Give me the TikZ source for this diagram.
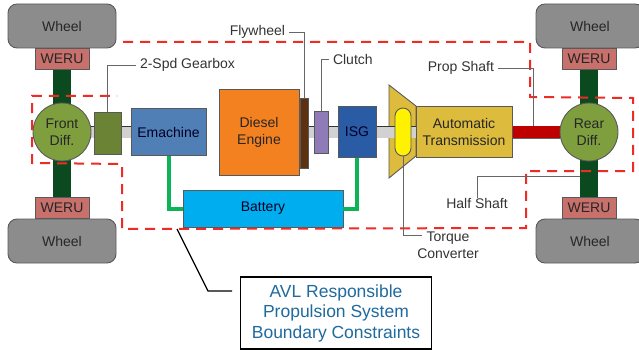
\documentclass[tikz,border=0pt]{standalone}
\usepackage{fontspec}
\setmainfont{Liberation Sans}
\usetikzlibrary{backgrounds}
\definecolor{wheelgrey}{HTML}{8C8C8C}
\definecolor{werured}{HTML}{C8706B}
\definecolor{axlegreen}{HTML}{0B4A1E}
\definecolor{diffgreen}{HTML}{7F9F3F}
\definecolor{gearboxgreen}{HTML}{6B8335}
\definecolor{emachineblue}{HTML}{4F7FB5}
\definecolor{isgblue}{HTML}{2A5BA5}
\definecolor{batteryblue}{HTML}{00AEEF}
\definecolor{engineorange}{HTML}{F48120}
\definecolor{flywheelbrown}{HTML}{5E3110}
\definecolor{clutchpurple}{HTML}{8F7BB8}
\definecolor{transgold}{HTML}{DDBB3C}
\definecolor{wiregreen}{HTML}{0DB457}
\definecolor{boundaryred}{HTML}{EE2B24}
\definecolor{avlblue}{HTML}{1F6A9F}
\begin{document}
\begin{tikzpicture}[x=1pt,y=-1pt,inner sep=0pt,
	part/.style={draw=black!65,line width=0.9pt,font=\fontsize{14}{17}\selectfont,align=center,text=black!85},
	wheel/.style={part,fill=wheelgrey,rounded corners=9pt,minimum width=108pt,minimum height=44pt},
	weru/.style={part,fill=werured,minimum width=54pt,minimum height=21pt},
	diff/.style={part,fill=diffgreen,circle,minimum size=58pt},
	label/.style={font=\fontsize{14}{17}\selectfont,align=center,text=black!80,outer xsep=4pt},
	leader/.style={draw=black!60,line width=0.9pt},
	wire/.style={draw=wiregreen,line width=4pt},
	mainshaft/.style={draw=black!80,line width=0.8pt,double=black!18,double distance=11pt}]
	\useasboundingbox (0,0) rectangle (639,350);

	\foreach [count=\n] \x/\y in {62/26,62/241,590/26,590/241}
		\node [wheel] (wheel \n) at (\x,\y) {Wheel};
	\foreach [count=\n] \x/\y in {62/58.5,62/207.5,589/58.5,589/207.5}
		\node [weru] (weru \n) at (\x,\y) {WERU};

	\node [diff] (front diff) at (62,132) {Front\\Diff.};
	\node [diff] (rear diff) at (589,132) {Rear\\Diff.};

	\node [part,fill=gearboxgreen,minimum width=27pt,minimum height=42pt] (gearbox) at (107.5,133) {};
	\node [part,fill=emachineblue,minimum width=75pt,minimum height=47pt,text=black!85!blue] (emachine) at (168.5,132) {Emachine};
	\node [part,fill=engineorange,minimum width=80pt,minimum height=86pt] (engine) at (259,132) {Diesel\\Engine};
	\node [part,fill=flywheelbrown,minimum width=8pt,minimum height=70pt] (flywheel) at (304,133) {};
	\node [part,fill=clutchpurple,minimum width=14pt,minimum height=42pt] (clutch) at (321,132) {};
	\node [part,fill=isgblue,minimum width=38pt,minimum height=51pt,text=black!85!blue] (isg) at (357,132) {ISG};
	\node [part,fill=transgold,minimum width=96pt,minimum height=51pt] (transmission) at (464,132) {Automatic\\Transmission};
	\node [part,fill=yellow,minimum width=16pt,minimum height=48pt,rounded corners=8pt] (converter) at (403,132) {};
	\node [part,fill=batteryblue,minimum width=160pt,minimum height=37pt,text=black!85!blue] (battery) at (263,208.5) {Battery};

	\begin{scope}[on background layer]
		\draw [part,fill=transgold] (389,85) -- (416,106) -- (416,156) -- (389,178) -- cycle;
		\draw [draw=axlegreen,line width=18pt] (weru 1) -- (weru 2);
		\draw [draw=axlegreen,line width=18pt] (weru 3) -- (weru 4);
		\draw [mainshaft] (front diff) -- (emachine);
		\draw [mainshaft] (engine) -- (transmission);
		\draw [draw=black!60,line width=13pt] (transmission) -- (rear diff);
		\draw [draw=red!75!black,line width=12pt] (transmission) -- (rear diff);
	\end{scope}

	\draw [wire] (emachine.south) |- (battery.west);
	\draw [wire] (isg.south) |- (battery.east);

	% boundary of the AVL scope
	\draw [draw=boundaryred,line width=2pt,dash pattern=on 10pt off 7pt]
		(123,42) -- (530,42) -- (530,97) -- (633,98) -- (633,171) -- (526,171)
		-- (526,228) -- (122,229) -- (122,164) -- (32,163) -- (32,96) -- (117,96);

	\node [label,anchor=west] (gearbox label) at (136,65) {2-Spd Gearbox};
	\node [label,anchor=east] (flywheel label) at (289,32) {Flywheel};
	\node [label,anchor=west] (clutch label) at (329,59) {Clutch};
	\node [label,anchor=east] (prop label) at (498,68) {Prop Shaft};
	\node [label] (half label) at (477,203) {Half Shaft};
	\node [label] (torque label) at (448,245) {Torque\\Converter};

	\coordinate (prop end) at (533,126);
	\coordinate (half end) at (580,176);
	\coordinate (torque end) at (422,235);

	\draw [leader] (gearbox.north) |- (gearbox label.west);
	\draw [leader] (flywheel.north) |- (flywheel label.east);
	\draw [leader] (clutch.north) |- (clutch label.west);
	\draw [leader] (prop label.east) -| (prop end);
	\draw [leader] (half label.north) |- (half end);
	\draw [leader] (converter.south) |- (torque end);

	\node [draw=black,line width=1.3pt,fill=white,minimum width=191pt,minimum height=72pt,
		font=\fontsize{17.5}{20.5}\selectfont,align=center,text=avlblue] (avl) at (336,313)
		{AVL Responsible\\Propulsion System\\Boundary Constraints};
	\coordinate (avl start) at (177,229);
	\coordinate (avl bend) at (208,291);
	\coordinate (avl end) at (232,291);
	\draw [black,line width=1.3pt] (avl start) -- (avl bend) -- (avl end);
\end{tikzpicture}
\end{document}
